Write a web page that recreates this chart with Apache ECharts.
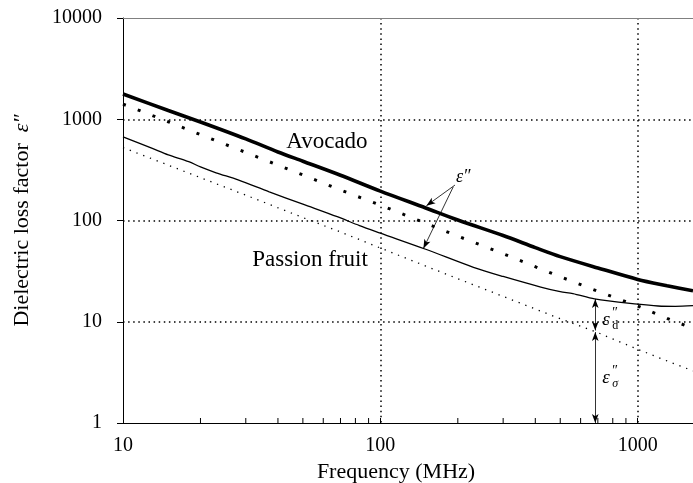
<!DOCTYPE html>
<html>
<head>
<meta charset="utf-8">
<script src="https://cdn.jsdelivr.net/npm/echarts@6/dist/echarts.min.js"></script>
<style>
  html, body { margin: 0; padding: 0; background: #fff; }
  #chart { width: 693px; height: 483px; }
</style>
</head>
<body>
<div id="chart"></div>
<script>
// values (frequency in MHz, loss factor)
const avocadoFreq = [10, 15, 20, 30, 40, 50, 70, 100, 150, 200, 300, 400, 500, 700, 1000, 1300, 1640]
const avocadoLoss = [1775, 1220, 940, 640, 475, 385, 280, 195, 133, 101, 71, 54, 44, 34, 26.2, 22.7, 20.2]

const avocadoSigmaFreq = [10, 15, 20, 30, 50, 70, 100, 150, 200, 300, 500, 700, 1000, 1300, 1640]
const avocadoSigmaLoss = [1410, 945, 705, 470, 282, 200, 142, 94, 70, 47, 27.8, 20, 14.3, 10.8, 8.6]

const passionFreq = [10, 13, 15, 18, 20, 23, 28, 37, 50, 68, 83, 100, 150, 230, 300, 420, 500, 560, 680, 1000, 1200, 1400, 1640]
const passionLoss = [671, 516, 445, 382, 338, 296, 252, 192, 145, 109, 89, 75, 52, 34.5, 28, 22, 19.8, 19, 16.8, 14.9, 14.3, 14.2, 14.4]

const passionSigmaFreq = [10, 15, 20, 30, 50, 70, 100, 150, 200, 300, 500, 700, 1000, 1300, 1640]
const passionSigmaLoss = [525, 352, 265, 178, 107, 77, 53.5, 35.5, 26.6, 17.8, 10.7, 7.8, 5.35, 4.1, 3.27]

const minorTicks = [20, 30, 40, 50, 60, 70, 80, 90, 200, 300, 400, 500, 600, 700, 800, 900]

// annotation anchors, in data coordinates
const epsLabelAt = [210, 268]
const epsArrowTop = [[195, 224], [151, 140]]
const epsArrowBottom = [[192, 215], [147, 53]]
const dArrow = [[684, 16.8], [684, 8.2]]
const sigmaArrow = [[684, 7.9], [684, 1]]
const dLabelAt = [790, 10.9]
const sigmaLabelAt = [790, 2.9]
const avocadoLabelAt = [62, 600]
const passionLabelAt = [53.3, 41]

const FONT = 'Liberation Serif'
const pairs = (xs, ys) => xs.map((x, i) => [x, ys[i]])

const chart = echarts.init(document.getElementById('chart'))

const isDecade = v => Math.abs(Math.log10(v) - Math.round(Math.log10(v))) < 1e-6

chart.setOption({
  animation: false,
  backgroundColor: '#fff',
  grid: { left: 123, right: 0, top: 18, bottom: 60, containLabel: false, outerBoundsMode: 'none' },
  xAxis: [{
    type: 'log', logBase: 10, min: 10, max: 1640,
    name: 'Frequency (MHz)', nameLocation: 'middle', nameGap: 30,
    nameTextStyle: { fontFamily: FONT, fontSize: 22, color: '#000', padding: [0, 24, 0, 0] },
    axisLine: { lineStyle: { color: '#000', width: 1 } },
    axisTick: { show: true, inside: true, length: 5, lineStyle: { color: '#000' } },
    axisLabel: {
      fontFamily: FONT, fontSize: 20, color: '#000', margin: 13,
      formatter: v => isDecade(v) ? String(Math.round(v)) : ''
    },
    splitLine: { show: true, showMinLine: false, showMaxLine: false, lineStyle: { color: '#000', width: 1.5, type: [1.5, 3.6] } }
  }, {
    type: 'log', logBase: 10, min: 10, max: 1640, position: 'top',
    axisLine: { lineStyle: { color: '#808080', width: 1.2 } },
    axisTick: { show: false }, axisLabel: { show: false }, splitLine: { show: false }
  }],
  yAxis: {
    type: 'log', logBase: 10, min: 1, max: 10000,
    name: '{a|Dielectric loss factor  }{e|ε″}',
    nameLocation: 'middle', nameGap: 90, nameRotate: 90,
    nameTextStyle: {
      fontFamily: FONT, fontSize: 22, color: '#000',
      rich: {
        a: { fontFamily: FONT, fontSize: 22, color: '#000' },
        e: { fontFamily: FONT, fontSize: 22, fontStyle: 'italic', color: '#000' }
      }
    },
    axisLine: { show: true, lineStyle: { color: '#000', width: 1 } },
    axisTick: { show: true, inside: false, length: 6, lineStyle: { color: '#000' } },
    axisLabel: {
      fontFamily: FONT, fontSize: 20, color: '#000', margin: 21,
      formatter: v => String(Math.round(v))
    },
    splitLine: { show: true, showMinLine: false, showMaxLine: false, lineStyle: { color: '#000', width: 1.5, type: [1.5, 3.6] } }
  },
  series: [
    {
      name: 'Avocado', type: 'line', smooth: 0.3, symbol: 'none',
      lineStyle: { color: '#000', width: 3.6 },
      data: pairs(avocadoFreq, avocadoLoss), z: 4
    },
    {
      name: 'Avocado sigma', type: 'line', symbol: 'none',
      lineStyle: { color: '#000', width: 3, type: [3, 12.8], cap: 'butt' },
      data: pairs(avocadoSigmaFreq, avocadoSigmaLoss), z: 3
    },
    {
      name: 'Passion fruit', type: 'line', smooth: 0.3, symbol: 'none',
      lineStyle: { color: '#000', width: 1.3 },
      data: pairs(passionFreq, passionLoss), z: 4,
      markLine: {
        silent: true, animation: false,
        symbolSize: [5, 9],
        label: { show: false },
        lineStyle: { color: '#000', width: 0.8, type: 'solid' },
        emphasis: { disabled: true },
        data: [
          [{ coord: epsArrowTop[0], symbol: 'none' }, { coord: epsArrowTop[1], symbol: 'arrow' }],
          [{ coord: epsArrowBottom[0], symbol: 'none' }, { coord: epsArrowBottom[1], symbol: 'arrow' }],
          [{ coord: dArrow[0], symbol: 'arrow' }, { coord: dArrow[1], symbol: 'arrow' }],
          [{ coord: sigmaArrow[0], symbol: 'arrow' }, { coord: sigmaArrow[1], symbol: 'arrow' }]
        ]
      }
    },
    {
      name: 'Passion fruit sigma', type: 'line', symbol: 'none',
      lineStyle: { color: '#000', width: 1.3, type: [1.3, 5.9], cap: 'butt' },
      data: pairs(passionSigmaFreq, passionSigmaLoss), z: 3
    },
    {
      // minor ticks on the frequency axis, pointing inward
      type: 'custom', silent: true, z: 6,
      data: minorTicks.map(f => [f, 1]),
      renderItem: (params, api) => {
        const p = api.coord([api.value(0), api.value(1)])
        return {
          type: 'line',
          shape: { x1: p[0], y1: p[1], x2: p[0], y2: p[1] - 5 },
          style: { stroke: '#000', lineWidth: 1 }
        }
      }
    }
  ]
})

function textAt(coord, text, size, opts = {}) {
  const p = chart.convertToPixel({ xAxisIndex: 0, yAxisIndex: 0 }, coord)
  return {
    type: 'text', x: p[0] + (opts.dx || 0), y: p[1] + (opts.dy || 0), silent: true,
    style: {
      text, fontFamily: FONT, fontSize: size, fill: '#000',
      fontStyle: opts.italic ? 'italic' : 'normal',
      align: opts.align || 'center', verticalAlign: 'middle'
    }
  }
}

// epsilon with a double prime and a subscript
function epsWithSub(coord, sub) {
  return [
    textAt(coord, 'ε', 19, { italic: true, align: 'left', dx: -9, dy: 2 }),
    textAt(coord, '″', 14, { italic: true, align: 'left', dx: 0, dy: -5 }),
    textAt(coord, sub, 12, { italic: sub === 'σ', align: 'left', dx: 1, dy: 8 })
  ]
}

chart.setOption({
  graphic: [
    textAt(avocadoLabelAt, 'Avocado', 23),
    textAt(passionLabelAt, 'Passion fruit', 23),
    textAt(epsLabelAt, 'ε″', 18, { italic: true }),
    ...epsWithSub(dLabelAt, 'd'),
    ...epsWithSub(sigmaLabelAt, 'σ')
  ]
})
</script>
</body>
</html>
